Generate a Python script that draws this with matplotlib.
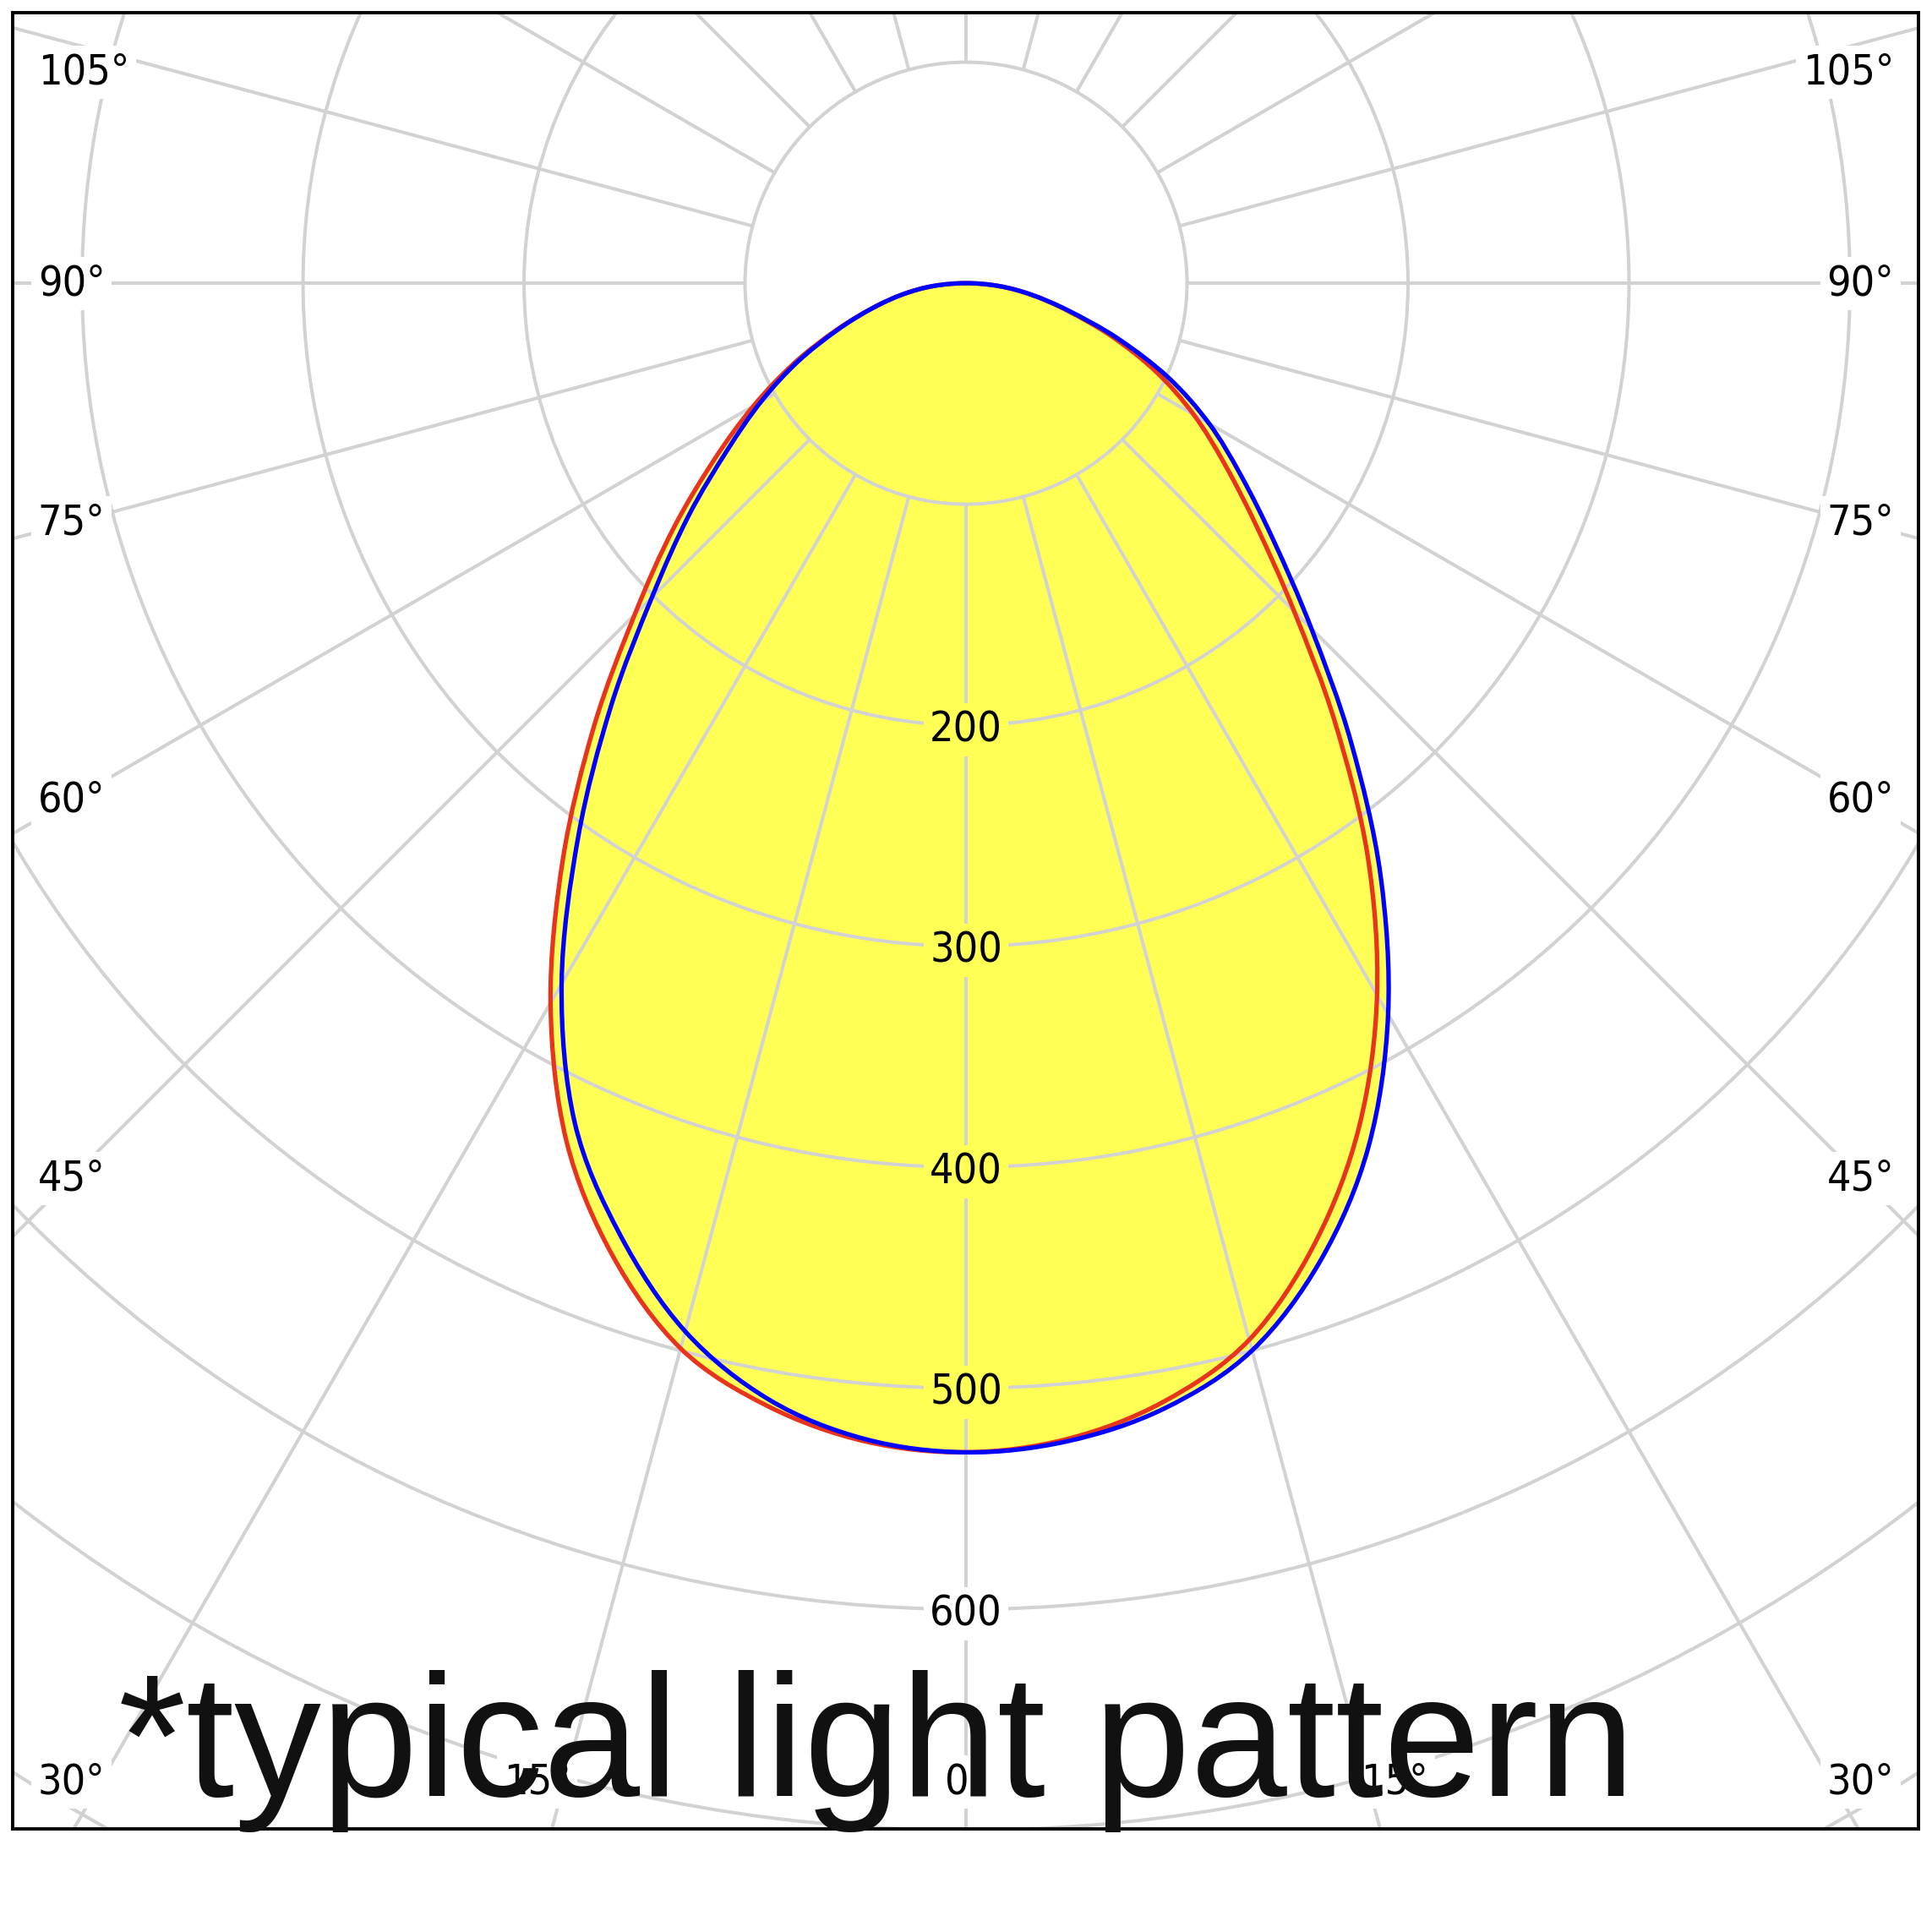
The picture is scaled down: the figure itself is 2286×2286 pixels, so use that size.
"""
Typical light pattern: polar luminous-intensity diagram (C0/C180 red, C90/C270 blue).
"""

import numpy as np
import matplotlib
matplotlib.use("Agg")
import matplotlib.pyplot as plt
from matplotlib.patches import Circle, PathPatch
from matplotlib.path import Path

# ── Data ──────────────────────────────────────────────────────────────────────

GAMMA = [0, 5, 10, 15, 20, 25, 30, 35, 40, 45, 50, 55, 60, 65, 70, 75, 80, 85, 90]

RED_C0    = [529, 525, 514, 495, 462, 421, 372, 317, 260, 210, 172, 143, 119, 95, 70, 47, 30, 15, 0]
RED_C180  = [529, 526, 516, 499, 468, 428, 376, 318, 262, 212, 173, 139, 111, 86, 63, 44, 29, 15, 0]
BLUE_C90  = [529, 526, 517, 500, 470, 431, 382, 327, 271, 221, 182, 152, 127, 101, 73, 48, 30, 15, 0]
BLUE_C270 = [529, 525, 513, 491, 458, 419, 366, 306, 250, 201, 164, 132, 107, 84, 62, 44, 29, 15, 0]

RINGS        = [100, 200, 300, 400, 500, 600, 700, 800, 900]
RING_LABELS  = [200, 300, 400, 500, 600]
SPOKES       = list(range(0, 360, 15))
ANGLE_LABELS = [0, 15, 30, 45, 60, 75, 90, 105]

FOOTNOTE = "*typical light pattern"

# ── Style ─────────────────────────────────────────────────────────────────────

YELLOW = "#ffff55"
RED    = "#e8341c"
BLUE   = "#0000ff"
GRID   = "#d2d2d2"

# view window (cd units, origin = lamp centre)
XLIM = (-431.4, 431.0)
YLIM = (-699.4, 122.4)
# where the angle labels sit
LAB_EDGE    = 420.0   # text edge for side labels
LAB_AIM     = 405.0   # x used to find the height of side labels
LAB_TOP     = 95.6
LAB_BOT     = -678.0
LAB_BOT_AIM = -724.0  # y used to find x of bottom labels

LABEL_FONT = dict(family="DejaVu Sans", fontsize=36, fontstretch="condensed")


def outline(left, right):
    g = np.radians(GAMMA)
    rl, rr = np.asarray(left, float), np.asarray(right, float)
    xl, yl = -rl * np.sin(g), -rl * np.cos(g)
    xr, yr = rr * np.sin(g), -rr * np.cos(g)
    return np.r_[xl[::-1], xr[1:]], np.r_[yl[::-1], yr[1:]]


def smooth_closed(x, y):
    # closed Catmull-Rom spline through the points, drawn as cubic Beziers
    pts = np.column_stack([x, y])[:-1]
    n = len(pts)
    verts, codes = [pts[0]], [Path.MOVETO]
    for i in range(n):
        p0, p1, p2, p3 = pts[i - 1], pts[i], pts[(i + 1) % n], pts[(i + 2) % n]
        verts += [p1 + (p2 - p0) / 6, p2 - (p3 - p1) / 6, p2]
        codes += [Path.CURVE4] * 3
    return Path(verts, codes)


def angle_label(a, side):
    """Return x, y, ha for an angle label."""
    if a == 0:
        return 0.0, LAB_BOT, "center"
    s, c = np.sin(np.radians(a)), np.cos(np.radians(a))
    y = -c * LAB_AIM / s
    edge_ha = "left" if side < 0 else "right"
    if y > LAB_TOP:
        return side * LAB_EDGE, LAB_TOP, edge_ha
    if y >= LAB_BOT:
        return side * LAB_EDGE, y, edge_ha
    xb = s * LAB_BOT_AIM / -c
    if xb > LAB_AIM:
        return side * LAB_EDGE, LAB_BOT, edge_ha
    return side * xb, LAB_BOT, "center"


fig = plt.figure(figsize=(22.86, 22.86), dpi=100)
ax = fig.add_axes([15 / 2286, 1 - 2164 / 2286, 2255 / 2286, 2149 / 2286])
ax.set_xlim(*XLIM)
ax.set_ylim(*YLIM)
ax.set_xticks([])
ax.set_yticks([])
for sp in ax.spines.values():
    sp.set_linewidth(2.8)
    sp.set_color("black")

red_path = smooth_closed(*outline(RED_C180, RED_C0))
blue_path = smooth_closed(*outline(BLUE_C270, BLUE_C90))

# yellow fill (union of both planes)
ax.add_patch(PathPatch(red_path, fc=YELLOW, ec="none", zorder=1))
ax.add_patch(PathPatch(blue_path, fc=YELLOW, ec="none", zorder=1))

# ── Grid ──
for r in RINGS:
    ax.add_patch(Circle((0, 0), r, fill=False, ec=GRID, lw=2.9, zorder=2))
for a in SPOKES:
    s, c = np.sin(np.radians(a)), np.cos(np.radians(a))
    ax.plot([RINGS[0] * s, 1500 * s], [-RINGS[0] * c, -1500 * c],
            color=GRID, lw=2.9, zorder=2, solid_capstyle="butt")

# ── Curves ──
ax.add_patch(PathPatch(red_path, fc="none", ec=RED, lw=3.8, zorder=4))
ax.add_patch(PathPatch(blue_path, fc="none", ec=BLUE, lw=3.8, zorder=4))

# ── Labels ──
for r in RING_LABELS:
    fc = YELLOW if r < min(RED_C0[0], BLUE_C90[0]) else "white"
    ax.text(0, -r, str(r), ha="center", va="center_baseline", zorder=3,
            bbox=dict(boxstyle="square,pad=0.15", fc=fc, ec="none"), **LABEL_FONT)

for a in ANGLE_LABELS:
    sides = (-1,) if a == 0 else (-1, 1)
    for side in sides:
        x, y, ha = angle_label(a, side)
        ax.text(x, y, f"{a}°", ha=ha, va="center", zorder=3,
                bbox=dict(boxstyle="square,pad=0.15", fc="white", ec="none"),
                **LABEL_FONT)

fig.text(140 / 2286, (2286 - 2125) / 2286, FOOTNOTE, ha="left", va="baseline",
         family="Liberation Sans", fontsize=148, color="#111111", zorder=10)

fig.savefig("out.png", dpi=100, facecolor="white")
